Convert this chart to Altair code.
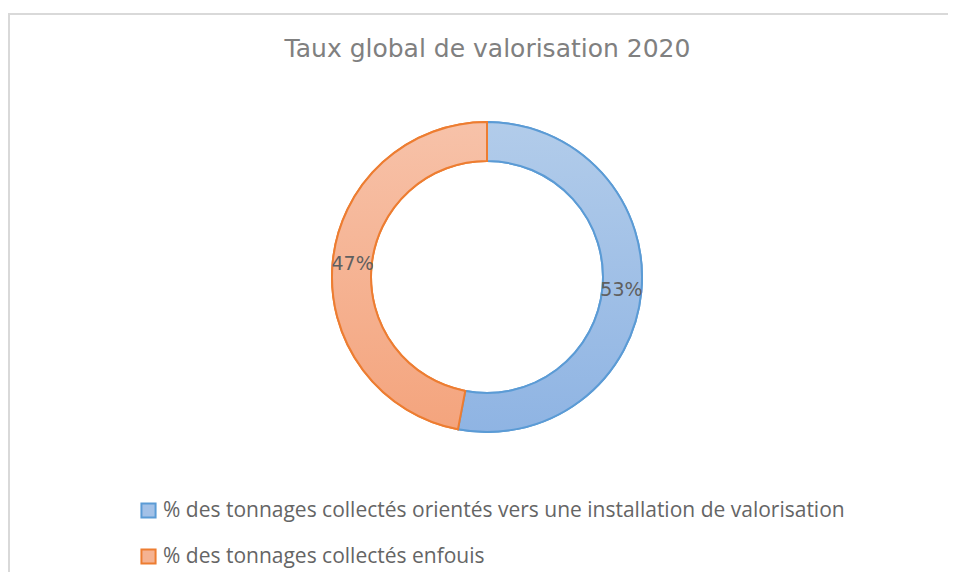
import altair as alt
import pandas as pd

title_text = ["Taux global de valorisation 2020"]
categories = [
    "% des tonnages collectés orientés vers une installation de valorisation",
    "% des tonnages collectés enfouis",
]
values = [53, 47]
labels = ["53%", "47%"]
orders = [0, 1]

fill_solid = ["#a3c1e7", "#f5b291"]
stroke_cols = ["#5b9bd5", "#ed7d31"]

df = pd.DataFrame({"cat": categories, "value": values, "label": labels, "ord": orders})

grad_blue = {"gradient": "linear", "x1": 0, "y1": 0, "x2": 0, "y2": 1,
             "stops": [{"offset": 0, "color": "#b2ccea"}, {"offset": 1, "color": "#8fb4e3"}]}
grad_orange = {"gradient": "linear", "x1": 0, "y1": 0, "x2": 0, "y2": 1,
               "stops": [{"offset": 0, "color": "#f7c2a9"}, {"offset": 1, "color": "#f4a47d"}]}

base = alt.Chart(df)

theta = alt.Theta("value:Q", stack=True)
order = alt.Order("ord:Q", sort="ascending")

legend_arcs = base.mark_arc(outerRadius=155, innerRadius=116, strokeWidth=2).encode(
    theta=theta,
    order=order,
    fill=alt.Color("cat:N", sort=categories,
                   scale=alt.Scale(domain=categories, range=fill_solid),
                   legend=alt.Legend(title=None, orient="none", legendX=101, legendY=432,
                                     direction="vertical", symbolType="square", symbolSize=200,
                                     symbolStrokeWidth=2, labelFont="Open Sans",
                                     labelFontSize=21, labelColor="#656565", rowPadding=23,
                                     symbolOffset=0, labelOffset=4, padding=0, labelLimit=900)),
    stroke=alt.Stroke("cat:N", sort=categories,
                      scale=alt.Scale(domain=categories, range=stroke_cols)),
)

grad_arcs = base.mark_arc(outerRadius=155, innerRadius=116, strokeWidth=2).encode(
    theta=theta,
    order=order,
    fill=alt.condition(alt.datum.ord == 0, alt.value(grad_blue), alt.value(grad_orange)),
    stroke=alt.condition(alt.datum.ord == 0, alt.value(stroke_cols[0]), alt.value(stroke_cols[1])),
)

text = base.mark_text(font="DejaVu Sans", fontSize=19, color="#5f5f5f",
                      align="center", baseline="middle").encode(
    theta=theta,
    order=order,
    radius=alt.value(135),
    text="label:N",
)

title = alt.Chart(pd.DataFrame({"t": title_text})).mark_text(
    font="DejaVu Sans", fontSize=25, color="#808080", align="center", baseline="middle"
).encode(x=alt.value(450.5), y=alt.value(-19), text="t:N")

border = alt.Chart(pd.DataFrame({"k": [0]})).mark_rule(color="#d9d9d9", strokeWidth=2).encode(
    x=alt.value(-29), x2=alt.value(930), y=alt.value(-54), y2=alt.value(-54)
)
border_left = alt.Chart(pd.DataFrame({"k": [0]})).mark_rule(color="#d9d9d9", strokeWidth=2).encode(
    x=alt.value(-28), x2=alt.value(-28), y=alt.value(-55), y2=alt.value(520)
)

chart = alt.layer(border, border_left, legend_arcs, grad_arcs, text, title).properties(
    width=900,
    height=418,
    padding={"left": 29, "top": 60, "right": 11, "bottom": 86},
    autosize=alt.AutoSizeParams(type="none"),
).configure_view(stroke=None)

chart.save("out.html", embed_options={"renderer": "svg", "actions": False})
